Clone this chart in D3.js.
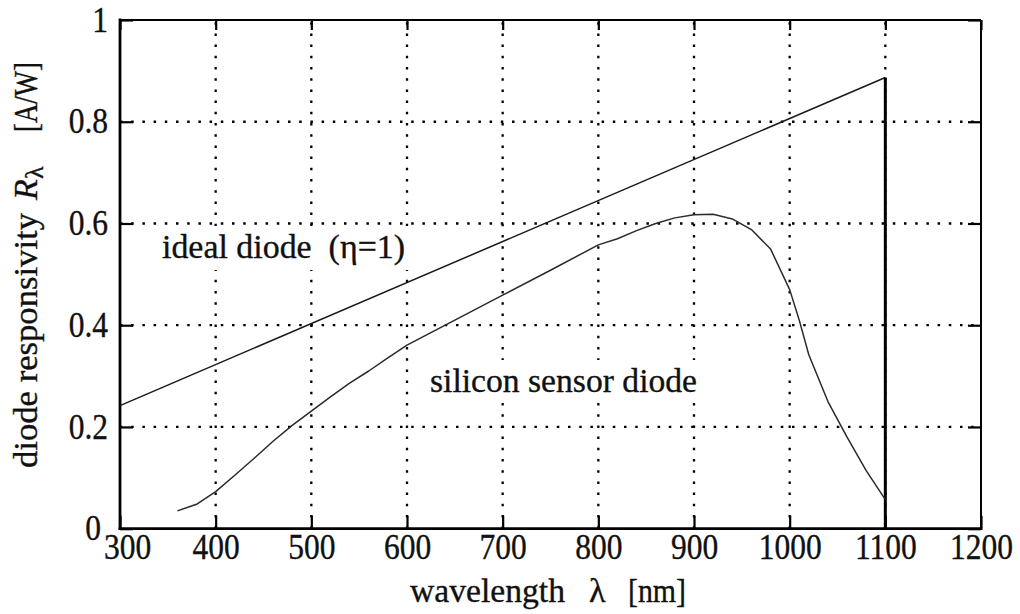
<!DOCTYPE html>
<html>
<head>
<meta charset="utf-8">
<script src="https://cdn.jsdelivr.net/npm/d3@7"></script>
<style>
  html, body { margin: 0; padding: 0; background: #fff; }
  svg { display: block; }
  text { font-family: "Liberation Serif", "Times New Roman", serif; fill: #111; stroke: #111; stroke-width: 0.35px; }
</style>
</head>
<body>
<svg id="chart" width="1020" height="614"></svg>
<script>
// Photodiode responsivity versus wavelength
const xTicks = [300, 400, 500, 600, 700, 800, 900, 1000, 1100, 1200];
const yTicks = [0, 0.2, 0.4, 0.6, 0.8, 1];
const xGrid = [400, 500, 600, 700, 800, 900, 1000, 1100];
const yGrid = [0.2, 0.4, 0.6, 0.8];

// ideal diode (quantum efficiency 1): R = lambda / 1240, cut off at the band gap
const idealWavelength = [300, 1100, 1100];
const idealValue = [0.242, 0.887, 0];

// measured silicon sensor diode
const siliconWavelength = [360, 380, 400, 420, 440, 460, 480, 500, 520, 540, 560, 580, 600, 650, 700, 750,
  800, 820, 840, 860, 880, 900, 920, 940, 960, 980, 1000, 1010, 1020, 1040, 1060, 1080, 1100];
const siliconValue = [0.035, 0.048, 0.073, 0.105, 0.138, 0.172, 0.203, 0.231, 0.259, 0.286, 0.310, 0.336,
  0.361, 0.410, 0.459, 0.508, 0.558, 0.570, 0.586, 0.600, 0.611, 0.617, 0.618, 0.609, 0.588, 0.550,
  0.470, 0.410, 0.342, 0.250, 0.180, 0.114, 0.057];

const svg = d3.select("#chart");
const plotLeft = 120, plotRight = 981, plotTop = 20, plotBottom = 528.7;

const x = d3.scaleLinear().domain([300, 1200]).range([plotLeft, plotRight]);
const y = d3.scaleLinear().domain([0, 1]).range([plotBottom, plotTop]);

// dotted grid
const dots = "2.5 8.7";
svg.append("g").selectAll("line").data(xGrid).join("line")
  .attr("x1", d => x(d)).attr("x2", d => x(d))
  .attr("y1", y(0)).attr("y2", y(1))
  .attr("stroke", "#000").attr("stroke-width", 2.3).attr("stroke-dasharray", dots);
svg.append("g").selectAll("line").data(yGrid).join("line")
  .attr("x1", x(300)).attr("x2", x(1200))
  .attr("y1", d => y(d)).attr("y2", d => y(d))
  .attr("stroke", "#000").attr("stroke-width", 2.3).attr("stroke-dasharray", dots);

// ticks on all four sides, pointing inward
const tickLen = 13;
const fs = 35;
const gx = svg.append("g").attr("transform", `translate(0,${plotBottom})`)
  .call(d3.axisBottom(x).tickValues(xTicks).tickSizeInner(-tickLen).tickSizeOuter(0).tickPadding(5).tickFormat(d3.format("d")));
const gy = svg.append("g").attr("transform", `translate(${plotLeft},0)`)
  .call(d3.axisLeft(y).tickValues(yTicks).tickSizeInner(-tickLen).tickSizeOuter(0).tickPadding(12).tickFormat(d => d === 0 || d === 1 ? d3.format("d")(d) : d3.format(".1f")(d)));
svg.append("g").attr("transform", `translate(0,${plotTop})`)
  .call(d3.axisTop(x).tickValues(xTicks).tickSizeInner(-10).tickSizeOuter(0).tickFormat(""));
svg.append("g").attr("transform", `translate(${plotRight},0)`)
  .call(d3.axisRight(y).tickValues(yTicks).tickSizeInner(-tickLen).tickSizeOuter(0).tickFormat(""));
svg.selectAll(".domain").remove();
svg.selectAll(".tick line").attr("stroke", "#000").attr("stroke-width", 2.2);
svg.selectAll(".tick text")
  .attr("font-size", fs)
  .attr("font-family", "\"Liberation Serif\", \"Times New Roman\", serif")
  .attr("fill", "#111")
  .each(function () {
    const w = this.getComputedTextLength();
    d3.select(this).attr("textLength", w * 0.9).attr("lengthAdjust", "spacingAndGlyphs");
  });
gx.selectAll(".tick text").filter(d => d === 300).attr("dx", 7);
gy.selectAll(".tick text").filter(d => d === 0).attr("dx", -7);

// frame
svg.append("line").attr("x1", plotLeft).attr("x2", plotRight).attr("y1", plotTop).attr("y2", plotTop).attr("stroke", "#000").attr("stroke-width", 2);
svg.append("line").attr("x1", plotRight).attr("x2", plotRight).attr("y1", plotTop).attr("y2", plotBottom).attr("stroke", "#000").attr("stroke-width", 2);
svg.append("line").attr("x1", plotLeft).attr("x2", plotRight).attr("y1", plotBottom).attr("y2", plotBottom).attr("stroke", "#000").attr("stroke-width", 2.8).attr("stroke-linecap", "square");
svg.append("line").attr("x1", plotLeft).attr("x2", plotLeft).attr("y1", plotTop).attr("y2", plotBottom).attr("stroke", "#000").attr("stroke-width", 2.8).attr("stroke-linecap", "square");

// curve labels with a white box behind them
function boxedLabel(tx, ty, str, len) {
  const g = svg.append("g");
  const rect = g.append("rect").attr("fill", "#fff");
  const t = g.append("text").attr("x", tx).attr("y", ty).attr("font-size", 34)
    .attr("textLength", len).attr("lengthAdjust", "spacingAndGlyphs").text(str);
  const b = t.node().getBBox();
  rect.attr("x", b.x - 6).attr("y", b.y - 2).attr("width", b.width + 12).attr("height", b.height + 6);
}
boxedLabel(162, 258, "ideal diode\u00a0\u00a0(\u03b7=1)", 243);
boxedLabel(430, 392, "silicon sensor diode", 267);

// curves
const ideal = idealWavelength.map((w, i) => [w, idealValue[i]]);
const line = d3.line().x(d => x(d[0])).y(d => y(d[1]));
svg.append("path").datum(ideal.slice(0, 2)).attr("d", line)
  .attr("fill", "none").attr("stroke", "#1a1a1a").attr("stroke-width", 1.5);
svg.append("path").datum(ideal.slice(1)).attr("d", line)
  .attr("fill", "none").attr("stroke", "#000").attr("stroke-width", 3);

const silicon = siliconWavelength.map((w, i) => [w, siliconValue[i]]);
svg.append("path").datum(silicon).attr("d", line)
  .attr("fill", "none").attr("stroke", "#2a2a2a").attr("stroke-width", 1.5).attr("stroke-linejoin", "round");

// axis titles
const xt = svg.append("g").attr("font-size", 34);
xt.append("text").attr("x", 410).attr("y", 602).attr("textLength", 155).attr("lengthAdjust", "spacingAndGlyphs").text("wavelength");
xt.append("text").attr("x", 589).attr("y", 602).text("\u03bb");
xt.append("text").attr("x", 628).attr("y", 602).attr("textLength", 58).attr("lengthAdjust", "spacingAndGlyphs").text("[nm]");

const yt = svg.append("g").attr("transform", "translate(37,468) rotate(-90)").attr("font-size", 34);
yt.append("text").attr("x", 0).attr("y", 0).attr("textLength", 255).attr("lengthAdjust", "spacingAndGlyphs").text("diode responsivity");
yt.append("text").attr("x", 268).attr("y", 0).attr("font-style", "italic").text("R");
yt.append("text").attr("x", 289).attr("y", 6).attr("font-size", 26).text("\u03bb");
yt.append("text").attr("x", 336).attr("y", 0).attr("textLength", 70).attr("lengthAdjust", "spacingAndGlyphs").text("[A/W]");
</script>
</body>
</html>
